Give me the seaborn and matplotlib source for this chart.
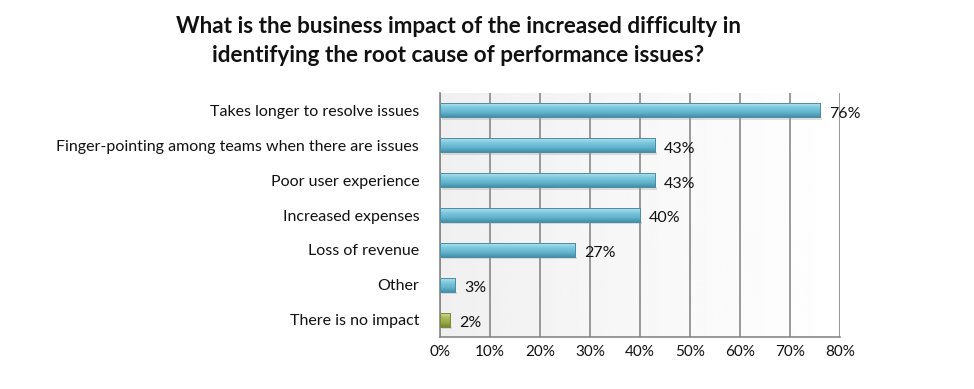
import numpy as np
import pandas as pd
import matplotlib
matplotlib.use("Agg")
import matplotlib.pyplot as plt
from matplotlib.colors import LinearSegmentedColormap
import seaborn as sns

categories = ["Takes longer to resolve issues",
              "Finger-pointing among teams when there are issues",
              "Poor user experience",
              "Increased expenses",
              "Loss of revenue",
              "Other",
              "There is no impact"]
values = [76, 43, 43, 40, 27, 3, 2]
value_labels = ["76%", "43%", "43%", "40%", "27%", "3%", "2%"]
xtick_labels = ["0%", "10%", "20%", "30%", "40%", "50%", "60%", "70%", "80%"]
title = ("What is the business impact of the increased difficulty in\n"
         "identifying the root cause of performance issues?")

sns.set_theme(style="white")
plt.rcParams['font.family'] = ['Lato', 'DejaVu Sans']

df = pd.DataFrame({"category": categories, "value": values})
colors = ["#6cbdd5"] * 6 + ["#9cb04c"]
blue_cmap = LinearSegmentedColormap.from_list(
    "b", ["#b3e1ee", "#7cc8de", "#62b4cd", "#4590a8"])
green_cmap = LinearSegmentedColormap.from_list(
    "g", ["#d3dc98", "#a9bb5a", "#98ab48", "#76882f"])

fig = plt.figure(figsize=(9.74, 3.89), dpi=100)
ax = fig.add_axes([440/974, 1-337/389, 400/974, (337-93)/389])

# background gradient
grad = np.linspace(0.94, 1.0, 256).reshape(1, -1)
ax.imshow(grad, extent=[0, 80, 6.5, -0.5], aspect='auto', cmap='gray',
          vmin=0, vmax=1, zorder=0, interpolation='bicubic')

sns.barplot(data=df, y="category", x="value", hue="category",
            palette=colors, legend=False, width=0.4, ax=ax, zorder=3,
            edgecolor="#4d8ea2", linewidth=0.7)

vgrad = np.linspace(0, 1, 64).reshape(-1, 1)
for i, p in enumerate(list(ax.patches)):
    x0, y0 = p.get_x(), p.get_y()
    w, h = p.get_width(), p.get_height()
    cmap = green_cmap if i == len(categories) - 1 else blue_cmap
    im = ax.imshow(vgrad, extent=[x0, x0 + w, y0 + h, y0], aspect='auto',
                   cmap=cmap, zorder=3.5, interpolation='bilinear')
    im.set_clip_path(p)
    # soft shadow
    ax.add_patch(plt.Rectangle((x0 + 0.4, y0 + h), w, h*0.18,
                               facecolor="#999999", alpha=0.3, lw=0, zorder=2))
    # outline on top
    ax.add_patch(plt.Rectangle((x0, y0), w, h, facecolor="none",
                               edgecolor=("#7b8a3a" if i == len(categories) - 1 else "#4d8ea2"),
                               lw=0.7, zorder=4))

ax.set_xlim(0, 80)
ax.set_ylim(6.5, -0.5)
ax.set_xticks(np.arange(0, 81, 10))
ax.set_xticklabels(xtick_labels, fontsize=11, color="#111111")
ax.set_yticks(range(len(categories)))
ax.set_yticklabels(categories, fontsize=11.5, color="#111111")
ax.tick_params(axis='y', which='major', length=0, pad=15)
ax.set_yticks(np.arange(-0.5, 7, 1), minor=True)
ax.tick_params(axis='y', which='minor', length=5, color="#888888", width=1)
ax.tick_params(axis='x', which='major', length=5, color="#888888", width=1, direction='in', pad=6)
ax.set_xlabel("")
ax.set_ylabel("")
ax.grid(axis='x', color="#888888", linewidth=1.2, zorder=1)
ax.set_axisbelow(True)
for s in ["top", "right"]:
    ax.spines[s].set_visible(False)
for s in ["left", "bottom"]:
    ax.spines[s].set_color("#888888")
    ax.spines[s].set_linewidth(1.2)

for i, (v, lab) in enumerate(zip(values, value_labels)):
    ax.text(v + 1.8, i + 0.1, lab, va='center', ha='left', fontsize=11.5,
            color="#111111", zorder=5)

fig.text(458/974, 1-41/389, title, ha='center', va='center', fontsize=16.2,
         fontweight='bold', color="#111111", linespacing=1.5)

fig.savefig("out.png", dpi=100, facecolor="white")
